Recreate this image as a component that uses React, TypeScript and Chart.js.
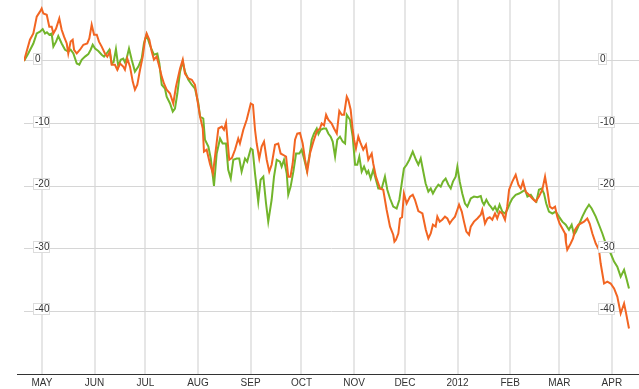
import { useEffect, useRef } from "react";
import { Chart, registerables } from "chart.js";
Chart.register(...registerables);

// Day offsets are counted from 1 May 2011
const monthTickDays = [0, 31, 61, 92, 123, 153, 184, 214, 245, 276, 305, 336];
const monthLabels = ["MAY", "JUN", "JUL", "AUG", "SEP", "OCT", "NOV", "DEC", "2012", "FEB", "MAR", "APR"];
const yTickValues = [0, -10, -20, -30, -40];

const orangeDays = [-10.6,-7.1,-5.1,-3.1,-1.2,-0.2,0.8,2.8,4.3,5.7,6.7,8.3,10.2,11.6,13.0,14.6,15.5,16.9,18.1,18.9,20.5,22.4,24.4,26.7,27.9,29.3,30.7,32.3,33.6,35.2,37.1,38.5,40.1,41.1,43.0,44.4,46.0,47.9,48.9,50.3,51.9,53.5,54.8,56.2,57.8,59.4,60.7,61.7,63.3,64.7,66.0,67.6,69.2,70.6,71.9,73.5,75.5,77.4,79.0,81.4,83.0,84.3,86.3,88.3,90.2,91.6,93.2,94.8,95.5,97.1,99.1,100.8,104.0,106.0,107.3,108.5,110.4,112.0,113.8,115.7,116.7,118.7,120.7,123.1,124.4,125.6,126.6,128.1,129.5,130.9,132.5,134.0,135.4,137.4,139.3,140.7,142.1,143.9,145.2,146.5,147.8,149.2,150.5,152.1,153.7,155.1,156.4,158.0,160.0,162.0,163.9,164.9,166.3,167.5,168.8,170.8,172.2,173.8,175.3,176.7,178.1,179.7,180.6,182.0,183.2,184.0,185.1,186.5,187.9,189.4,191.0,192.4,194.4,195.3,196.9,199.3,201.2,203.2,205.2,207.1,207.8,208.7,210.1,211.1,212.3,213.4,215.0,217.0,218.6,219.9,221.9,224.3,226.3,227.8,229.2,230.5,232.1,233.1,234.5,236.0,237.6,239.0,240.4,241.9,243.5,244.9,245.9,247.5,248.8,250.2,251.8,252.8,254.7,256.7,258.7,259.6,261.2,262.6,264.0,265.5,267.1,268.4,269.8,271.4,273.0,274.3,275.4,277.3,279.3,280.9,282.3,283.6,285.2,287.1,289.1,291.1,293.0,295.0,296.6,297.9,299.4,300.9,302.5,303.8,305.2,306.8,308.4,308.9,309.7,311.7,313.1,314.3,316.2,317.6,319.6,321.5,322.9,324.5,326.5,328.4,329.4,331.4,333.3,335.3,337.3,339.2,341.2,343.2,344.2,346.1];
const orangeValues = [0,3.4,4.4,7.1,7.9,8.4,7.6,7.4,5.5,5.5,4.4,5.2,6.8,5.0,3.9,2.8,1.2,3.1,3.4,1.8,1.2,1.8,2.6,2.8,3.6,5.8,4.2,4.2,3.1,2.3,1.2,0.7,1.5,-0.6,-0.6,-1.4,-0.4,-0.9,-1.4,0.4,-0.9,-3.3,-4.6,-3.8,-1.4,0.7,3.4,4.4,3.4,1.5,0.2,0.7,-0.9,-2.5,-3.6,-4.6,-5.2,-6.8,-4.1,-1.2,0.2,-2.0,-2.8,-3.0,-3.8,-6.2,-8.9,-10.8,-14.5,-14.2,-16.5,-18,-10.8,-10.5,-11,-9.9,-15.8,-15.5,-14.2,-12.4,-13.2,-11,-9.4,-6.8,-7,-11,-13.2,-15.6,-13.7,-12.9,-15.8,-17.7,-16.6,-13.4,-13.2,-14.8,-15,-15.3,-18.5,-18.5,-16.4,-12.6,-11.6,-11.5,-13.2,-15.8,-17.7,-14.8,-12.9,-11.3,-10.8,-10.0,-10.3,-8.6,-9.4,-10,-10.8,-11.6,-8.0,-8.6,-8.6,-5.7,-6.2,-7.8,-11,-12.6,-14,-12.1,-13.2,-14.2,-13.4,-15.8,-14.8,-16.4,-18.5,-20.4,-20.6,-23.8,-26.5,-27.8,-28.9,-28.6,-27.6,-25.2,-25.0,-21.2,-22.8,-21.7,-21.4,-22.2,-24.0,-24.4,-27,-28.4,-27.6,-26.2,-26.5,-24.9,-25.7,-25.4,-24.9,-25.2,-26,-25.4,-24.9,-23.8,-23.0,-24.1,-25.7,-27.3,-27.8,-26.5,-25.7,-25.2,-24.6,-23.8,-26,-25.2,-25.0,-25.4,-24.4,-25.2,-24.1,-24.4,-25.4,-23.3,-20.6,-19.3,-18.2,-19.8,-20.4,-19.3,-20.9,-21.4,-22,-22.5,-21.7,-20.6,-18.5,-20.6,-23.3,-23.6,-23.3,-24.9,-26,-26.8,-27.6,-29.0,-30.2,-29.2,-28.4,-27,-26.2,-26,-25.7,-25.2,-26,-27.6,-29.2,-30.2,-32.4,-35.6,-35.3,-35.6,-36.4,-37.7,-40.4,-38.8,-40.1,-42.8];

const greenDays = [-10.6,-8.1,-5.1,-3.1,-1.2,0.4,1.8,2.9,4.3,5.7,6.7,8.3,9.6,11.6,13.6,15.5,16.9,18.5,20.5,22.0,23.4,25.4,27.3,28.7,29.9,31.3,33.2,35.2,36.6,38.1,39.7,41.1,42.2,43.6,45.0,46.4,47.9,48.9,49.9,51.3,52.9,54.8,56.8,58.8,60.1,61.7,63.3,64.7,66.0,68.0,69.2,70.6,72.5,73.5,75.5,77.1,78.4,79.8,81.4,83.0,84.3,86.3,88.3,90.2,92.2,93.2,95.1,96.1,98.1,99.5,101.4,103.0,105.0,106.5,108.5,109.8,111.3,112.8,114.8,116.3,117.7,119.7,121.0,123.1,124.2,125.6,127.5,128.9,130.5,132.1,133.4,135.4,136.8,138.4,140.3,141.3,142.7,144.3,145.2,146.6,148.2,149.8,151.7,153.1,154.5,156.1,157.6,159.0,160.4,162.0,163.0,164.3,165.9,167.5,168.8,170.2,171.4,172.8,174.1,175.7,177.3,178.7,179.7,181.6,183.2,184.6,185.9,187.1,188.5,189.9,191.5,192.4,193.8,195.3,196.9,198.3,200.3,202.2,203.6,205.2,207.1,209.1,210.7,212.1,213.4,215.0,216.6,218.6,220.5,221.9,223.3,224.6,226.2,227.8,229.2,230.5,232.1,233.7,235.1,236.4,238.0,239.6,241.0,242.3,243.9,244.9,246.3,247.8,249.4,250.8,252.8,254.7,256.7,258.7,259.6,260.6,262.0,263.6,264.6,265.9,267.1,268.4,269.8,271.4,273.0,274.3,275.8,277.3,279.3,281.3,283.2,284.8,286.2,288.2,290.1,291.5,293.0,294.6,296.0,297.3,298.9,300.9,302.9,304.8,306.8,308.8,310.7,312.3,313.7,314.9,316.6,318.6,320.6,322.5,324.1,326.5,328.4,330.4,332.4,335.3,337.3,339.2,341.2,343.2,344.6,346.1];
const greenValues = [0,1.2,2.8,4.4,4.7,5.1,4.4,4.6,4.2,4.4,2.3,3.1,4.0,2.8,1.8,1.5,1.8,1.2,-0.4,-0.6,0.2,0.7,1.1,1.8,2.6,2.0,1.6,1.0,0.7,1.2,1.8,-0.4,-0.2,1.9,-0.9,0.2,0.4,-0.2,0.4,2.0,0.2,-1.7,-0.9,0.4,2.8,4.2,2.8,1.8,1.0,1.2,-0.4,-3.8,-4.4,-5.7,-6.8,-8.1,-7.6,-5.2,-1.7,-0.1,-1.7,-3.0,-3.8,-4.4,-6.8,-8.9,-9.2,-12.6,-13.7,-15.6,-20,-14.8,-12.4,-13.2,-13.2,-17.4,-18.8,-15.8,-15.6,-15.6,-17.7,-15.6,-16.1,-14,-14.2,-18,-22.5,-19,-18.5,-22.8,-25.7,-22.2,-18.5,-15.8,-16.1,-16.9,-15.8,-18,-21.4,-20.1,-17.7,-14.8,-14.8,-14.2,-15.6,-17.4,-15.3,-12.6,-11.6,-10.8,-11.7,-11,-10.8,-10.8,-11.6,-12.1,-12.9,-15.3,-12.6,-12.1,-12.9,-13.2,-8.6,-9.4,-12.1,-16.6,-16.6,-15.3,-17.7,-16.9,-18,-17.6,-18.8,-17.4,-19,-20.4,-20.4,-18.5,-20.6,-22.0,-23.3,-23.6,-22.2,-19.6,-17.2,-16.6,-15.8,-14.5,-15.8,-16.6,-15.6,-17.4,-19.6,-20.9,-20.4,-21.2,-20.4,-19.8,-20.1,-19.3,-18.8,-19.8,-20.4,-19.3,-18.5,-16.9,-19.3,-21.2,-22.8,-23.3,-22.0,-21.7,-21.8,-21.6,-22.5,-23,-22.2,-23,-23.3,-23.8,-23.3,-24.1,-23,-24.1,-24.4,-23.8,-22.8,-22,-21.4,-21.2,-20.9,-20.6,-21.7,-21.4,-22.2,-22.5,-20.6,-20.4,-21.2,-22.8,-24.1,-24.4,-24.1,-24.9,-25.7,-26.2,-27,-26.2,-27.8,-27.3,-26.2,-24.9,-23.8,-23,-23.6,-24.9,-26.2,-27.6,-29.2,-30.8,-32.1,-32.9,-34.5,-33.4,-34.8,-36.4];

const ORANGE = "#f26522";
const GREEN = "#72b52b";
const FONT = "'Liberation Sans', Arial, sans-serif";

function toPoints(days: number[], values: number[]) {
  const n = Math.min(days.length, values.length);
  const pts: { x: number; y: number }[] = [];
  for (let i = 0; i < n; i++) pts.push({ x: days[i], y: values[i] });
  return pts;
}

export default function App() {
  const ref = useRef<HTMLCanvasElement>(null);
  useEffect(() => {
    document.body.style.margin = "0";
    if (!ref.current) return;

    const overlay = {
      id: "overlay",
      afterDraw(chart: any) {
        const { ctx, chartArea } = chart;
        const y = chart.scales.y;
        ctx.save();
        ctx.strokeStyle = "#333";
        ctx.lineWidth = 1;
        ctx.beginPath();
        ctx.moveTo(17, Math.round(chartArea.bottom) + 0.5);
        ctx.lineTo(chart.width, Math.round(chartArea.bottom) + 0.5);
        ctx.stroke();

        ctx.font = "10px " + FONT;
        ctx.textBaseline = "middle";
        ctx.textAlign = "left";
        for (const v of yTickValues) {
          const py = Math.round(y.getPixelForValue(v));
          const t = String(v);
          const w = Math.round(ctx.measureText(t).width) + 3;
          for (const bx of [chartArea.left + 9, 598]) {
            ctx.fillStyle = "#fff";
            ctx.fillRect(bx, py - 8, w, 12);
            ctx.strokeStyle = "#dcdcdc";
            ctx.strokeRect(bx + 0.5, py - 8 + 0.5, w - 1, 11);
            ctx.fillStyle = "#333";
            ctx.fillText(t, bx + 2, py - 1.5);
          }
        }
        ctx.restore();
      },
    };

    const chart = new Chart(ref.current, {
      type: "line",
      data: {
        datasets: [
          {
            data: toPoints(orangeDays, orangeValues),
            borderColor: ORANGE,
            borderWidth: 2,
            pointRadius: 0,
            tension: 0,
            fill: false,
          },
          {
            data: toPoints(greenDays, greenValues),
            borderColor: GREEN,
            borderWidth: 2,
            pointRadius: 0,
            tension: 0,
            fill: false,
          },
        ],
      },
      options: {
        animation: false,
        responsive: false,
        maintainAspectRatio: false,
        layout: { padding: { left: 24, right: 0, top: 0, bottom: 0 } },
        plugins: { legend: { display: false }, tooltip: { enabled: false } },
        scales: {
          x: {
            type: "linear",
            min: -10.61,
            max: 352,
            afterBuildTicks: (s: any) => {
              s.ticks = monthTickDays.map((v) => ({ value: v }));
            },
            afterFit: (s: any) => {
              s.height = 15;
            },
            grid: { color: "#e6e6e6", lineWidth: 2, drawTicks: false },
            border: { display: false },
            ticks: {
              autoSkip: false,
              maxRotation: 0,
              padding: 3,
              color: "#333",
              font: { family: FONT, size: 10 },
              callback: (value: any) => monthLabels[monthTickDays.indexOf(Number(value))] ?? "",
            },
          },
          y: {
            type: "linear",
            min: -50.08,
            max: 9.76,
            afterBuildTicks: (s: any) => {
              s.ticks = yTickValues.map((v) => ({ value: v }));
            },
            afterFit: (s: any) => {
              s.width = 0;
            },
            grid: { color: "#d6d6d6", lineWidth: 1, drawTicks: false },
            border: { display: false },
            ticks: { display: false },
          },
        },
      },
      plugins: [overlay],
    });
    return () => chart.destroy();
  }, []);

  return <canvas ref={ref} width={639} height={389} style={{ display: "block" }} />;
}
